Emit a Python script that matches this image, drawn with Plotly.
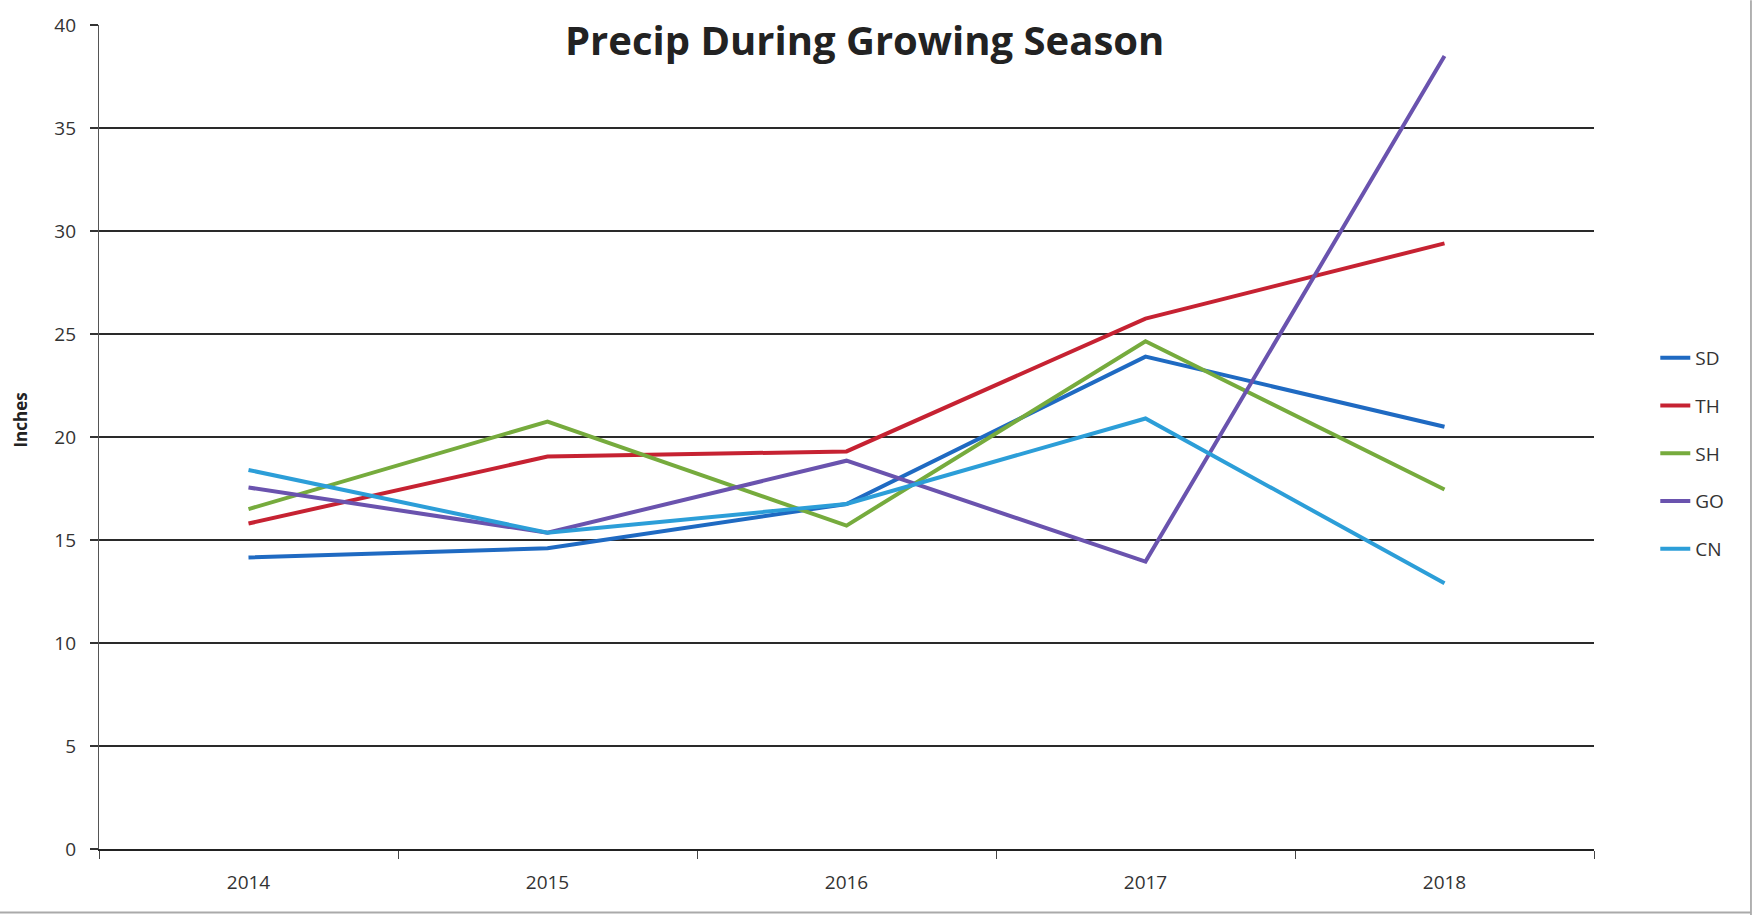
import plotly.graph_objects as go

years = ["2014", "2015", "2016", "2017", "2018"]
SD = [14.15, 14.6, 16.75, 23.9, 20.5]
TH = [15.8, 19.05, 19.3, 25.75, 29.4]
SH = [16.5, 20.75, 15.7, 24.65, 17.45]
GO = [17.55, 15.35, 18.85, 13.95, 38.5]
CN = [18.4, 15.35, 16.75, 20.9, 12.9]

series = [("SD", SD, "#1F6AC2"), ("TH", TH, "#C62232"), ("SH", SH, "#76AB3D"),
          ("GO", GO, "#6A53AE"), ("CN", CN, "#2C9ED8")]

FONT = "Open Sans"
fig = go.Figure()
for name, vals, col in series:
    fig.add_trace(go.Scatter(x=years, y=vals, name=name, mode="lines",
                             line=dict(color=col, width=4),
                             legendgroup=name))

fig.update_layout(
    width=1758, height=915,
    margin=dict(l=99, r=164, t=18, b=66),
    paper_bgcolor="white", plot_bgcolor="white",
    font=dict(family=FONT, size=19, color="#333333"),
    showlegend=True,
    legend=dict(x=1.041, y=0.48, xanchor="left", yanchor="middle",
                font=dict(family=FONT, size=19, color="#333333"),
                tracegroupgap=20, bgcolor="rgba(0,0,0,0)"),
    xaxis=dict(type="category", range=[-0.5, 4.5], showgrid=False, showline=True,
               linecolor="#222222", linewidth=1.5, ticks="outside", tickson="boundaries",
               ticklen=8, tickcolor="#444444", tickwidth=1.2, ticklabelstandoff=15,
               tickfont=dict(family=FONT, size=19, color="#333333")),
    yaxis=dict(range=[0, 40], dtick=5, showgrid=True, gridcolor="#2a2a2a", gridwidth=1.6,
               showline=True, linecolor="#555555", linewidth=1.2,
               ticks="outside", ticklen=8, tickcolor="#333333", tickwidth=1.6,
               zeroline=False, ticklabelstandoff=10,
               tickfont=dict(family=FONT, size=19, color="#333333")),
    annotations=[
        dict(text="<b>Precip During Growing Season</b>", xref="paper", yref="paper",
             x=0.512, y=0.983, xanchor="center", yanchor="middle", showarrow=False,
             font=dict(family=FONT, size=40, color="#222222")),
        dict(text="<b>Inches</b>", xref="paper", yref="paper",
             x=-0.0528, y=0.52, xanchor="center", yanchor="middle", showarrow=False,
             textangle=-90, font=dict(family=FONT, size=17, color="#222222")),
    ],
    shapes=[
        dict(type="line", xref="paper", yref="paper", x0=1.105, x1=1.105, y0=-0.08, y1=1.03,
             line=dict(color="#999999", width=1.5)),
        dict(type="line", xref="paper", yref="paper", x0=-0.07, x1=1.105, y0=-0.077, y1=-0.077,
             line=dict(color="#aaaaaa", width=2)),
    ],
)

fig.write_html("out.html", config={"displayModeBar": False},
               post_script="document.body.style.margin='0';document.body.style.padding='0';")
